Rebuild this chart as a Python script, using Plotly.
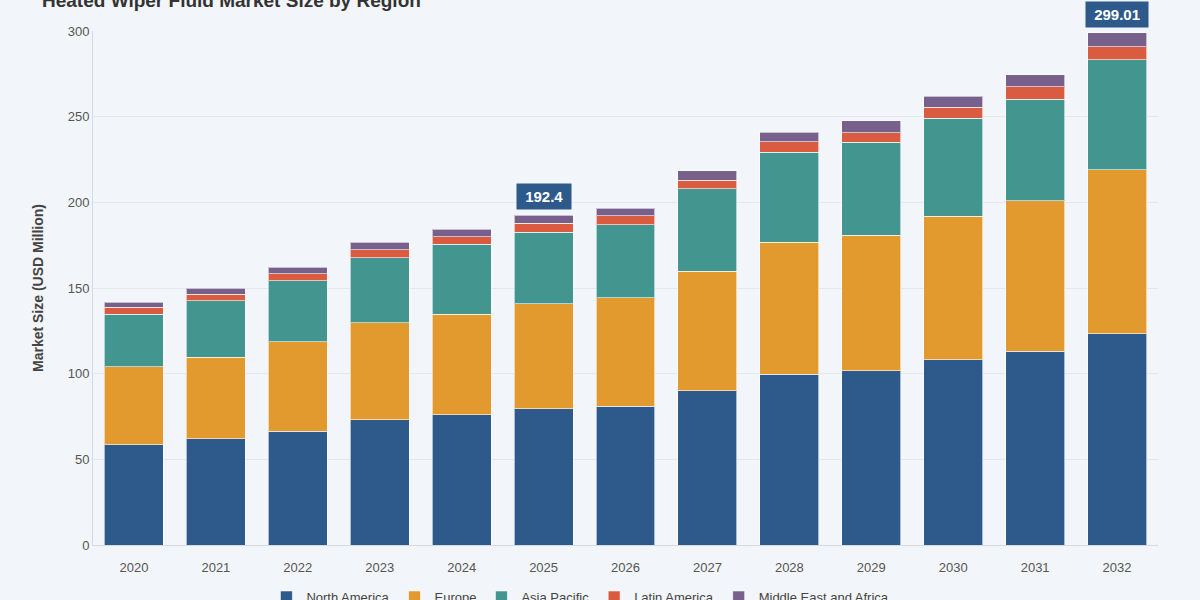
import plotly.graph_objects as go

years = ['2020', '2021', '2022', '2023', '2024', '2025', '2026',
         '2027', '2028', '2029', '2030', '2031', '2032']

north_america = [58.4, 61.9, 66.5, 73.0, 75.9, 79.4, 81.1, 89.9, 99.8, 101.6, 108.0, 113.2, 123.2]
europe = [45.5, 47.8, 52.0, 56.6, 58.9, 61.3, 63.1, 70.0, 77.0, 79.3, 84.0, 87.6, 95.7]
asia_pacific = [30.9, 32.9, 35.6, 38.1, 40.7, 41.8, 42.6, 47.9, 52.4, 54.3, 57.0, 59.5, 64.2]
latin_america = [3.9, 3.7, 4.1, 4.5, 4.5, 5.2, 5.4, 5.2, 6.2, 5.3, 6.5, 7.2, 7.7]
mea = [3.1, 3.5, 3.9, 4.5, 4.4, 4.7, 4.3, 5.5, 5.6, 7.0, 6.5, 7.0, 8.21]

regions = {
    'North America': (north_america, '#2d5a8a'),
    'Europe': (europe, '#e2992e'),
    'Asia Pacific': (asia_pacific, '#43968f'),
    'Latin America': (latin_america, '#d95c40'),
    'Middle East and Africa': (mea, '#78608c'),
}

# years that get a total label above the bar
labelled_years = ['2025', '2032']

fig = go.Figure()
for name, (values, colour) in regions.items():
    fig.add_trace(go.Bar(
        x=years, y=values, name=name,
        marker=dict(color=colour, line=dict(color='rgba(255,255,255,0.6)', width=1)),
    ))

totals = [round(sum(v), 2) for v in zip(north_america, europe, asia_pacific, latin_america, mea)]
for i, (yr, tot) in enumerate(zip(years, totals)):
    if yr in labelled_years:
        # category axis: annotation x is the category's serial number
        fig.add_annotation(
            x=i, y=tot, text=f'&nbsp;<b>{tot:g}</b>&nbsp;', showarrow=False,
            yanchor='bottom', yshift=5,
            font=dict(color='white', size=15, family='Liberation Sans, Arial'),
            bgcolor='#2d5a8a', borderpad=4,
        )

fig.update_layout(
    barmode='stack',
    bargap=0.28,
    width=1200, height=600,
    margin=dict(l=93, r=42, t=31, b=55),
    paper_bgcolor='#f2f5f9',
    plot_bgcolor='#f2f5f9',
    font=dict(family='Liberation Sans, Arial', color='#555', size=13),
    title=dict(text='<b>Heated Wiper Fluid Market Size by Region</b>',
               x=0.035, xanchor='left', y=1.0, yref='container', yanchor='middle',
               font=dict(size=19, color='#333')),
    legend=dict(orientation='h', x=0.222, xanchor='left', xref='container',
                y=0.005, yanchor='middle', yref='container',
                font=dict(size=13, color='#444'), traceorder='normal',
                itemwidth=30),
    showlegend=True,
)
fig.update_xaxes(type='category', showline=True, linecolor='#d5d9e0', showgrid=False,
                 ticks='outside', ticklen=10, tickcolor='rgba(0,0,0,0)', automargin=False)
fig.update_yaxes(range=[0, 300], dtick=50, showgrid=True, gridcolor='#e3e7ee',
                 showline=True, linecolor='#d5d9e0', zeroline=False,
                 title=dict(text='<b>Market Size (USD Million)</b>', font=dict(size=14, color='#444'),
                            standoff=20))

fig.write_html('out.html', config={'displayModeBar': False},
               post_script="document.body.style.margin='0';")
